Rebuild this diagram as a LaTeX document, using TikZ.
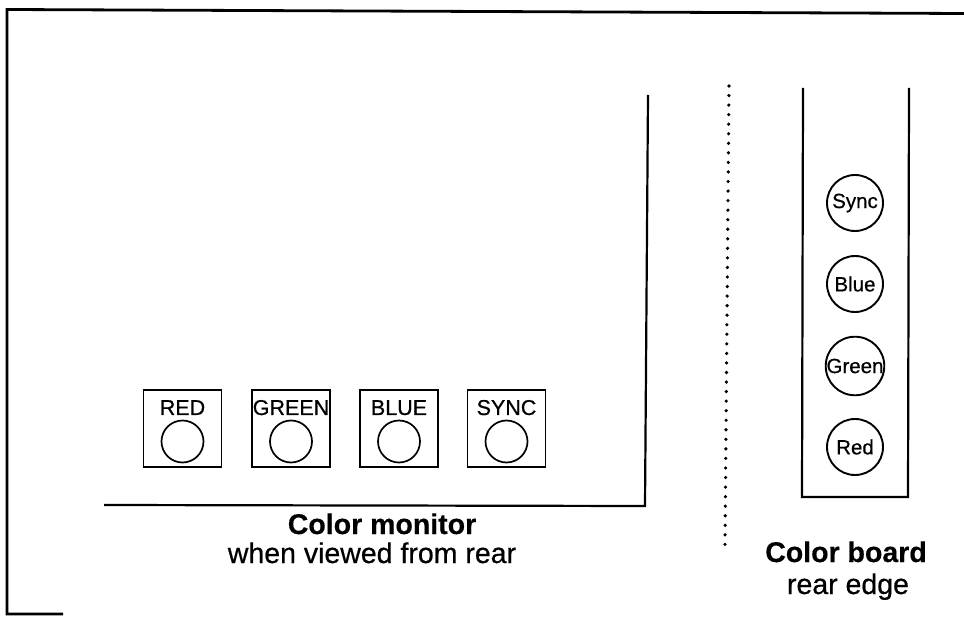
\documentclass[tikz,border=0pt]{standalone}
\usepackage{fontspec}
\setmainfont{Liberation Sans}
\newfontfamily\scanfont[FakeBold=0.6]{Liberation Sans}
\newfontfamily\scanbold[FakeBold=0.4]{Liberation Sans Bold}
\begin{document}
\begin{tikzpicture}[x=1pt,y=-1pt,
  frameline/.style={line width=2.8pt},
  monline/.style={line width=2.2pt},
  btnbox/.style={draw,line width=1.7pt,minimum width=78pt,minimum height=77pt,inner sep=0pt},
  jack/.style={draw,circle,line width=1.7pt,minimum size=42pt,inner sep=0pt},
  btnlabel/.style={anchor=base,inner sep=0pt,font=\scanfont\fontsize{21.5}{24}\selectfont},
  boardjack/.style={draw,circle,line width=1.9pt,minimum size=56pt,inner sep=0pt,font=\scanfont\fontsize{20.5}{22}\selectfont},
  dotline/.style={line width=3.6pt,line cap=round,dash pattern=on 0pt off 9.55pt},
  titletext/.style={anchor=base,inner sep=0pt,font=\scanbold\fontsize{28.5}{30}\selectfont},
  subtext/.style={anchor=base,inner sep=0pt,font=\scanfont\fontsize{28.5}{30}\selectfont}]
\useasboundingbox (0,0) rectangle (964,617);
% outer frame (cropped)
\coordinate (ftr) at (964,13.5);
\coordinate (ftl) at (7,9.5);
\coordinate (fbl) at (7,614);
\coordinate (fbr) at (63,614);
\draw[frameline] (ftr) -- (ftl) -- (fbl) -- (fbr);
% monitor outline
\coordinate (mt) at (648,95);
\coordinate (mc) at (645,506);
\coordinate (ml) at (104,505);
\draw[monline] (mt) -- (mc) -- (ml);
% monitor buttons
\foreach \n/\cx/\t in {r/182.5/RED, g/291/GREEN, b/399/BLUE, s/506.5/SYNC}{
  \node[btnbox] (box\n) at (\cx,428.5) {};
  \node[btnlabel] (lab\n) at (\cx,415) {\t};
  \node[jack] (jack\n) at (\cx,441.5) {};
}
% dotted divider
\coordinate (dt) at (729,86);
\coordinate (db) at (725,545);
\draw[dotline] (dt) -- (db);
% color board
\coordinate (bl1) at (803,88);
\coordinate (bl2) at (802,497);
\coordinate (br2) at (908,497);
\coordinate (br1) at (909,88);
\draw[monline] (bl1) -- (bl2) -- (br2) -- (br1);
\node[boardjack] (bsync) at (855,203) {Sync};
\node[boardjack] (bblue) at (855,284) {Blue};
\node[boardjack] (bgreen) at (855,366) {Green};
\node[boardjack] (bred) at (855,447) {Red};
% captions
\node[titletext] (cm) at (382,534) {Color monitor};
\node[subtext] (cm2) at (372,563) {when viewed from rear};
\node[titletext] (cb) at (846,562) {Color board};
\node[subtext] (cb2) at (848,594) {rear edge};
\end{tikzpicture}
\end{document}
